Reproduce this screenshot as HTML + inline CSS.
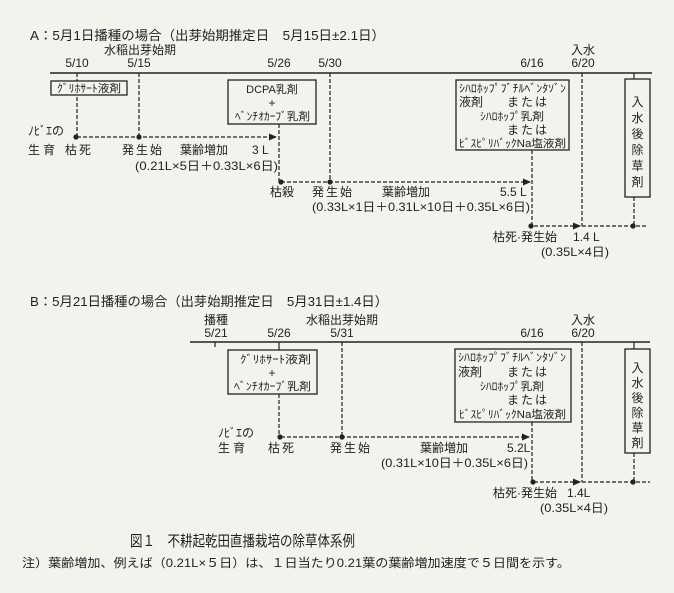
<!DOCTYPE html>
<html><head><meta charset="utf-8"><style>
html,body{margin:0;padding:0;background:#f4f2ed;}
svg{display:block;}
text{font-family:"Liberation Sans","Noto Sans CJK JP",sans-serif;fill:#222;}
.s{font-size:12px;}
.n{font-size:11px;}
.l{stroke:#222;stroke-width:1.2;fill:none;}
.d{stroke:#222;stroke-width:1.2;fill:none;stroke-dasharray:4 2;}
.b{stroke:#222;stroke-width:1.3;fill:#f4f2ed;}
</style></head><body>
<svg width="674" height="593" viewBox="0 0 674 593" xmlns="http://www.w3.org/2000/svg">
<defs><marker id="ar" markerWidth="8" markerHeight="8" refX="7" refY="4" orient="auto" markerUnits="userSpaceOnUse"><path d="M0,0.5 L8,4 L0,7.5z" fill="#222"/></marker></defs>

<!-- A -->
<text x="30" y="40" font-size="13" textLength="355" lengthAdjust="spacingAndGlyphs">A：5月1日播種の場合（出芽始期推定日　5月15日±2.1日）</text>
<text x="104" y="54" class="s" textLength="72" lengthAdjust="spacingAndGlyphs">水稲出芽始期</text>
<text x="77" y="67" class="s" text-anchor="middle">5/10</text>
<text x="139" y="67" class="s" text-anchor="middle">5/15</text>
<text x="279" y="67" class="s" text-anchor="middle">5/26</text>
<text x="330" y="67" class="s" text-anchor="middle">5/30</text>
<text x="532" y="67" class="s" text-anchor="middle">6/16</text>
<text x="583" y="54" class="s" text-anchor="middle">入水</text>
<text x="583" y="67" class="s" text-anchor="middle">6/20</text>
<line x1="50" y1="73" x2="652" y2="73" stroke="#222" stroke-width="1.6"/>
<line class="d" x1="77" y1="73" x2="77" y2="137"/>
<line class="d" x1="139" y1="73" x2="139" y2="137"/>
<line class="d" x1="77" y1="137" x2="276" y2="137" stroke-dasharray="5 2 1 2" marker-end="url(#ar)"/>
<line class="d" x1="279" y1="124" x2="279" y2="182"/>
<line class="d" x1="330" y1="73" x2="330" y2="182"/>
<line class="d" x1="281" y1="182" x2="530" y2="182" marker-end="url(#ar)"/>
<line class="d" x1="532" y1="150" x2="532" y2="226"/>
<line class="d" x1="582" y1="73" x2="582" y2="226"/>
<line class="d" x1="534" y1="226" x2="580" y2="226" marker-end="url(#ar)"/>
<line class="d" x1="582" y1="226" x2="646" y2="226"/>
<line class="d" x1="634" y1="197" x2="634" y2="226"/>
<line class="l" x1="634" y1="73" x2="634" y2="79"/>
<circle cx="76" cy="137" r="2.6" fill="#222"/><circle cx="139" cy="137" r="2.6" fill="#222"/>
<circle cx="281" cy="182" r="2.6" fill="#222"/><circle cx="330" cy="182" r="2.6" fill="#222"/>
<circle cx="531" cy="226" r="2.6" fill="#222"/><circle cx="633" cy="226" r="2.6" fill="#222"/>
<rect class="b" x="51" y="81" width="76" height="14"/>
<text x="57" y="92" class="n" textLength="64" lengthAdjust="spacingAndGlyphs">ｸﾞﾘﾎｻｰﾄ液剤</text>
<rect class="b" x="228" y="80" width="88" height="44"/>
<text x="272" y="93" class="n" text-anchor="middle">DCPA乳剤</text>
<text x="272" y="107" class="s" text-anchor="middle">+</text>
<text x="235" y="120" class="n" textLength="75" lengthAdjust="spacingAndGlyphs">ﾍﾞﾝﾁｵｶｰﾌﾞ乳剤</text>
<rect class="b" x="456" y="80" width="113" height="70"/>
<text x="459" y="92" class="n" textLength="107" lengthAdjust="spacingAndGlyphs">ｼﾊﾛﾎｯﾌﾟﾌﾞﾁﾙﾍﾞﾝﾀｿﾞﾝ</text>
<text x="459" y="106" class="s">液剤</text><text x="528" y="106" class="s" text-anchor="middle" letter-spacing="2">または</text>
<text x="480" y="120" class="n" textLength="64" lengthAdjust="spacingAndGlyphs">ｼﾊﾛﾎｯﾌﾟ乳剤</text>
<text x="528" y="134" class="s" text-anchor="middle" letter-spacing="2">または</text>
<text x="459" y="147" class="n" textLength="107" lengthAdjust="spacingAndGlyphs">ﾋﾞｽﾋﾟﾘﾊﾞｯｸNa塩液剤</text>
<rect class="b" x="625" y="79" width="25" height="118"/>
<text x="637.5" y="106" class="s" text-anchor="middle">入</text>
<text x="637.5" y="122" class="s" text-anchor="middle">水</text>
<text x="637.5" y="138" class="s" text-anchor="middle">後</text>
<text x="637.5" y="154" class="s" text-anchor="middle">除</text>
<text x="637.5" y="170" class="s" text-anchor="middle">草</text>
<text x="637.5" y="186" class="s" text-anchor="middle">剤</text>
<text x="28" y="135" class="s">ﾉﾋﾞｴの</text>
<text x="28" y="154" class="s" letter-spacing="3">生育</text>
<text x="65" y="154" class="s" letter-spacing="2">枯死</text>
<text x="122" y="154" class="s" letter-spacing="2">発生始</text>
<text x="180" y="154" class="s">葉齢増加</text>
<text x="252" y="154" class="s">3 L</text>
<text x="135" y="170" class="s" textLength="143" lengthAdjust="spacingAndGlyphs">(0.21L×5日＋0.33L×6日)</text>
<text x="270" y="196" class="s">枯殺</text>
<text x="312" y="196" class="s" letter-spacing="2">発生始</text>
<text x="382" y="196" class="s">葉齢増加</text>
<text x="500" y="196" class="s">5.5 L</text>
<text x="312" y="211" class="s" textLength="218" lengthAdjust="spacingAndGlyphs">(0.33L×1日＋0.31L×10日＋0.35L×6日)</text>
<text x="493" y="241" class="s">枯死·発生始</text>
<text x="573" y="241" class="s">1.4 L</text>
<text x="541" y="256" class="s" textLength="68" lengthAdjust="spacingAndGlyphs">(0.35L×4日)</text>

<!-- B -->
<text x="30" y="306" font-size="13" textLength="358" lengthAdjust="spacingAndGlyphs">B：5月21日播種の場合（出芽始期推定日　5月31日±1.4日）</text>
<text x="216" y="324" class="s" text-anchor="middle">播種</text>
<text x="216" y="337" class="s" text-anchor="middle">5/21</text>
<text x="279" y="337" class="s" text-anchor="middle">5/26</text>
<text x="306" y="324" class="s" textLength="72" lengthAdjust="spacingAndGlyphs">水稲出芽始期</text>
<text x="342" y="337" class="s" text-anchor="middle">5/31</text>
<text x="532" y="337" class="s" text-anchor="middle">6/16</text>
<text x="583" y="324" class="s" text-anchor="middle">入水</text>
<text x="583" y="337" class="s" text-anchor="middle">6/20</text>
<line x1="190" y1="342" x2="650" y2="342" stroke="#222" stroke-width="1.6"/>
<line class="l" x1="215" y1="342" x2="215" y2="347"/>
<line class="l" x1="279" y1="342" x2="279" y2="350"/>
<line class="l" x1="634" y1="342" x2="634" y2="349"/>
<line class="d" x1="279" y1="394" x2="279" y2="437"/>
<line class="d" x1="342" y1="342" x2="342" y2="437"/>
<line class="d" x1="281" y1="437" x2="529" y2="437" marker-end="url(#ar)"/>
<line class="d" x1="532" y1="422" x2="532" y2="482"/>
<line class="d" x1="582" y1="342" x2="582" y2="482"/>
<line class="d" x1="534" y1="482" x2="580" y2="482" marker-end="url(#ar)"/>
<line class="d" x1="582" y1="482" x2="650" y2="482"/>
<line class="d" x1="634" y1="453" x2="634" y2="482"/>
<circle cx="280" cy="437" r="2.6" fill="#222"/><circle cx="342" cy="437" r="2.6" fill="#222"/>
<circle cx="533" cy="482" r="2.6" fill="#222"/><circle cx="633" cy="482" r="2.6" fill="#222"/>
<rect class="b" x="228" y="350" width="89" height="44"/>
<text x="240" y="363" class="n" textLength="71" lengthAdjust="spacingAndGlyphs">ｸﾞﾘﾎｻｰﾄ液剤</text>
<text x="272" y="377" class="s" text-anchor="middle">+</text>
<text x="234" y="390" class="n" textLength="77" lengthAdjust="spacingAndGlyphs">ﾍﾞﾝﾁｵｶｰﾌﾞ乳剤</text>
<rect class="b" x="455" y="349" width="116" height="73"/>
<text x="458" y="361" class="n" textLength="108" lengthAdjust="spacingAndGlyphs">ｼﾊﾛﾎｯﾌﾟﾌﾞﾁﾙﾍﾞﾝﾀｿﾞﾝ</text>
<text x="458" y="376" class="s">液剤</text><text x="528" y="376" class="s" text-anchor="middle" letter-spacing="2">または</text>
<text x="480" y="390" class="n" textLength="64" lengthAdjust="spacingAndGlyphs">ｼﾊﾛﾎｯﾌﾟ乳剤</text>
<text x="528" y="404" class="s" text-anchor="middle" letter-spacing="2">または</text>
<text x="459" y="418" class="n" textLength="107" lengthAdjust="spacingAndGlyphs">ﾋﾞｽﾋﾟﾘﾊﾞｯｸNa塩液剤</text>
<rect class="b" x="625" y="349" width="25" height="104"/>
<text x="637.5" y="372" class="s" text-anchor="middle">入</text>
<text x="637.5" y="387" class="s" text-anchor="middle">水</text>
<text x="637.5" y="402" class="s" text-anchor="middle">後</text>
<text x="637.5" y="417" class="s" text-anchor="middle">除</text>
<text x="637.5" y="432" class="s" text-anchor="middle">草</text>
<text x="637.5" y="447" class="s" text-anchor="middle">剤</text>
<text x="218" y="437" class="s">ﾉﾋﾞｴの</text>
<text x="218" y="452" class="s" letter-spacing="3">生育</text>
<text x="268" y="452" class="s" letter-spacing="2">枯死</text>
<text x="330" y="452" class="s" letter-spacing="2">発生始</text>
<text x="420" y="452" class="s">葉齢増加</text>
<text x="507" y="452" class="s">5.2L</text>
<text x="381" y="467" class="s" textLength="147" lengthAdjust="spacingAndGlyphs">(0.31L×10日＋0.35L×6日)</text>
<text x="493" y="497" class="s">枯死·発生始</text>
<text x="567" y="497" class="s">1.4L</text>
<text x="540" y="512" class="s" textLength="68" lengthAdjust="spacingAndGlyphs">(0.35L×4日)</text>

<text x="130" y="546" font-size="15" textLength="225" lengthAdjust="spacingAndGlyphs">図１　不耕起乾田直播栽培の除草体系例</text>
<text x="22" y="567" class="s" textLength="548" lengthAdjust="spacingAndGlyphs">注）葉齢増加、例えば（0.21L×５日）は、１日当たり0.21葉の葉齢増加速度で５日間を示す。</text>
</svg>
</body></html>
